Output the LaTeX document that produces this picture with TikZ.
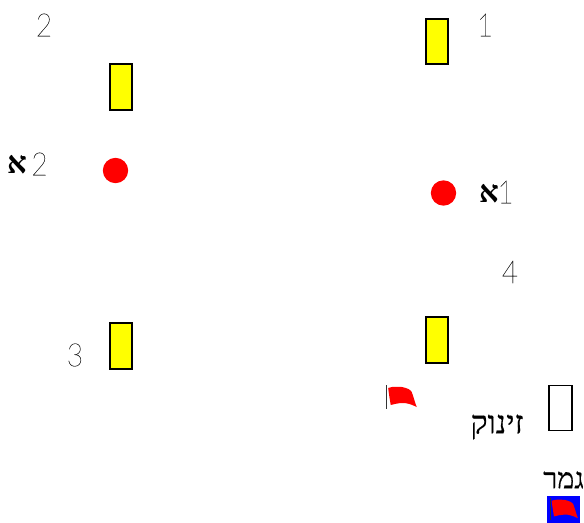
\documentclass[tikz,border=0pt]{standalone}
\usepackage{fontspec}
\TeXXeTstate=1
\newfontfamily\hebfont[Script=Hebrew, FakeBold=0.4]{Liberation Serif}
\newfontfamily\alefont[Script=Hebrew]{Liberation Serif Bold}
\newfontfamily\thinfont[FakeBold=0.25]{Lato Hairline}
\definecolor{gateyellow}{RGB}{255,255,0}
\begin{document}
\begin{tikzpicture}[x=0.75pt, y=-0.75pt,
        gate/.style={draw, line width=1.5pt, fill=gateyellow, minimum width=17pt, minimum height=34pt, inner sep=0pt},
        buoy/.style={circle, fill=red, minimum size=19pt, inner sep=0pt},
        startbox/.style={draw, line width=1.2pt, minimum width=17.5pt, minimum height=34pt, inner sep=0pt},
        endbox/.style={fill=blue, minimum width=24.5pt, minimum height=20pt, inner sep=0pt},
        number/.style={font=\thinfont\fontsize{24}{24}\selectfont, text=black!85, xscale=0.88, inner sep=0pt},
        hebrew/.style={font=\hebfont\fontsize{24}{24}\selectfont, inner sep=0pt},
        alef/.style={font=\alefont\fontsize{23}{23}\selectfont, inner sep=0pt}]
            \useasboundingbox (0, 0) rectangle (584, 523);

            \newcommand{\redflag}[3]{
                \begin{scope}[shift={(#1, #2)}, scale=#3]
                    \draw[black!80, line width=0.7pt] (0, 0) -- (0, 24);
                    \fill[red] (1.5, 3) .. controls (7, 1) and (11, 2) .. (15, 2)
                        .. controls (21, 3) and (24, 5) .. (25, 7)
                        .. controls (27, 12) and (28, 17) .. (30, 22)
                        .. controls (24, 19) and (20, 18) .. (16, 18)
                        .. controls (12, 18) and (8, 19) .. (4, 20)
                        .. controls (3, 14) and (2, 8) .. (1.5, 3) -- cycle;
                \end{scope}
            }

            \node[gate] (gate2) at (121, 87) {};
            \node[gate] (gate1) at (437, 41.5) {};
            \node[gate] (gate3) at (121, 346) {};
            \node[gate] (gate4) at (437, 340) {};
            \node[buoy] (buoy2) at (115.5, 170.5) {};
            \node[buoy] (buoy1) at (443.5, 193) {};
            \node[startbox] (start) at (560.5, 408) {};
            \node[endbox] (finish) at (563.5, 509.5) {};

            \node[number] (num2) at (44, 25) {2};
            \node[number] (num1) at (485, 25) {1};
            \node[number] (num3) at (75, 355) {3};
            \node[number] (num4) at (510, 272) {4};
            \node[number] (num2a) at (39.5, 164) {2};
            \node[number] (num1a) at (505.5, 192) {1};

            \node[alef] (alef2) at (17, 165) {\beginR א\endR};
            \node[alef] (alef1) at (489, 194) {\beginR א\endR};
            \node[hebrew] (startlabel) at (497, 427) {\beginR זינוק\endR};
            \node[hebrew, font=\hebfont\fontsize{21.5}{21.5}\selectfont] (finishlabel) at (563.5, 480) {\beginR גמר\endR};

            \redflag{386.7}{385}{1};
            \redflag{550.3}{498}{0.92};
        \end{tikzpicture}
\end{document}
